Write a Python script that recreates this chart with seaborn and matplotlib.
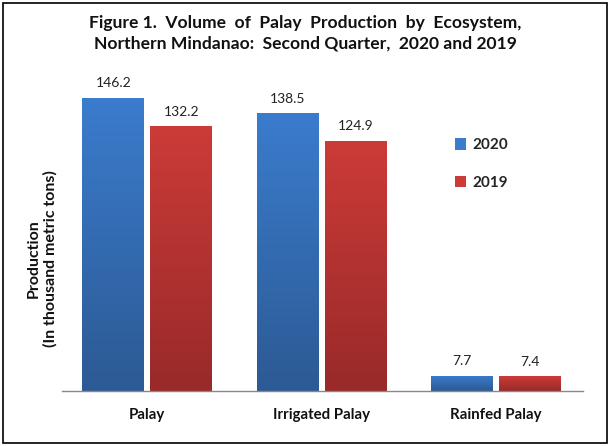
import numpy as np
import pandas as pd
import matplotlib
matplotlib.use("Agg")
import matplotlib.pyplot as plt
from matplotlib.colors import LinearSegmentedColormap
from matplotlib.patches import Rectangle, Patch
import seaborn as sns

categories = ["Palay", "Irrigated Palay", "Rainfed Palay"]
years = ["2020", "2019"]
values_2020 = [146.2, 138.5, 7.7]
values_2019 = [132.2, 124.9, 7.4]

df = pd.DataFrame({
    "Ecosystem": categories * 2,
    "Year": [years[0]] * 3 + [years[1]] * 3,
    "Production": values_2020 + values_2019,
})

sns.set_theme(style="white")
plt.rcParams["font.family"] = ["Lato", "DejaVu Sans"]

top_cols = {"2020": "#3B7CCD", "2019": "#CC3B38"}
bot_cols = {"2020": "#2C5A94", "2019": "#982A29"}

fig = plt.figure(figsize=(6.1, 4.46), dpi=100)
ax = fig.add_axes([0.1016, 0.1233, 0.854, 0.742])

sns.barplot(data=df, x="Ecosystem", y="Production", hue="Year",
            hue_order=years, order=categories,
            palette=top_cols, width=0.78, gap=0.09, ax=ax,
            legend=False, linewidth=0)

for cont, yr in zip(ax.containers, years):
    cmap = LinearSegmentedColormap.from_list("g" + yr, [bot_cols[yr], top_cols[yr]])
    grad = np.linspace(0, 1, 256).reshape(-1, 1)
    for bar in cont:
        x0, y0 = bar.get_x(), bar.get_y()
        w, h = bar.get_width(), bar.get_height()
        im = ax.imshow(grad, extent=[x0, x0 + w, y0, y0 + h], aspect="auto",
                       cmap=cmap, origin="lower", zorder=bar.get_zorder() + 0.1)
        im.set_clip_path(bar)
    ax.bar_label(cont, fmt="%.1f", padding=6, fontsize=10, color="#222222")

ax.set_xlim(-0.49, 2.5)
ax.set_ylim(0, 165)
ax.set_aspect("auto")

for s in ["top", "right", "left"]:
    ax.spines[s].set_visible(False)
ax.spines["bottom"].set_color("#888888")
ax.spines["bottom"].set_linewidth(1.0)
ax.set_yticks([])
ax.tick_params(axis="x", length=0, pad=12)
for lbl in ax.get_xticklabels():
    lbl.set_fontweight("bold")
    lbl.set_fontsize(10.8)
    lbl.set_color("#111111")
ax.set_xlabel("")
ax.set_ylabel("Production\n(In thousand metric tons)", fontsize=11.5,
              fontweight="bold", color="#111111", linespacing=1.25)
ax.yaxis.set_label_coords(-0.008, 0.40)

handles = [Patch(facecolor=top_cols[y], edgecolor="none") for y in years]
leg = ax.legend(handles, years, loc="upper left", bbox_to_anchor=(0.728, 0.805),
                frameon=False, handlelength=0.75, handleheight=0.75,
                labelspacing=1.55, handletextpad=0.4,
                prop={"weight": "bold", "size": 11})

fig.text(0.5, 0.966, "Figure 1.  Volume  of  Palay  Production  by  Ecosystem,\n"
         "Northern Mindanao:  Second Quarter,  2020 and 2019",
         ha="center", va="top", fontsize=12.6, fontweight="bold",
         color="#111111", linespacing=1.35)

fig.patches.append(Rectangle((0.005, 0.007), 0.99, 0.986, transform=fig.transFigure,
                             fill=False, edgecolor="black", linewidth=1.2))

fig.savefig("out.png", dpi=100)
